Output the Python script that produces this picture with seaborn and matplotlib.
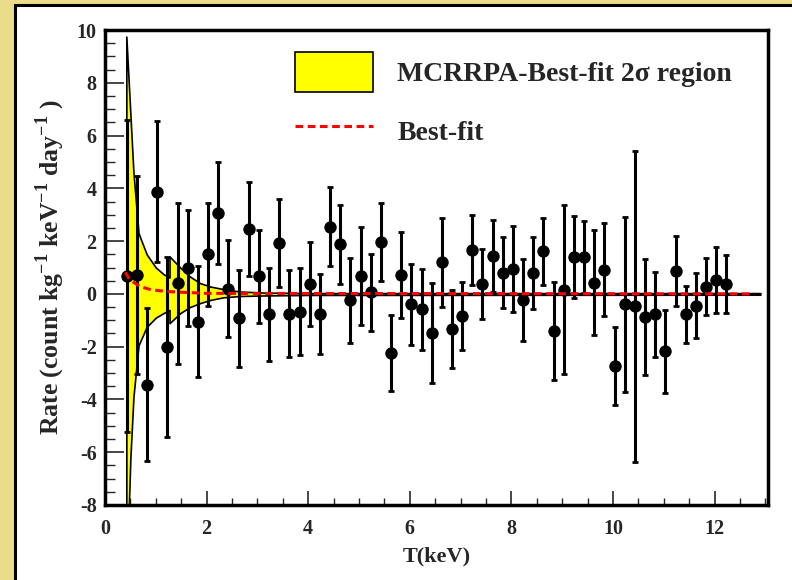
import matplotlib

matplotlib.use("Agg")
import matplotlib.pyplot as plt
import seaborn as sns
from matplotlib.lines import Line2D
from matplotlib.patches import Patch, Rectangle
from matplotlib.ticker import MultipleLocator

# measured spectrum: bin centres (keV), rate and 1-sigma error
energy = [0.43, 0.63, 0.83, 1.03, 1.23, 1.43, 1.63, 1.83, 2.03, 2.23,
          2.43, 2.63, 2.83, 3.03, 3.23, 3.43, 3.63, 3.83, 4.03, 4.23,
          4.43, 4.63, 4.83, 5.03, 5.23, 5.43, 5.63, 5.83, 6.03, 6.23,
          6.43, 6.63, 6.83, 7.03, 7.23, 7.43, 7.63, 7.83, 8.03, 8.23,
          8.43, 8.63, 8.83, 9.03, 9.23, 9.43, 9.63, 9.83, 10.03, 10.23,
          10.43, 10.63, 10.83, 11.03, 11.23, 11.43, 11.63, 11.83, 12.03, 12.23]
rate = [0.68, 0.70, -3.45, 3.88, -2.02, 0.40, 0.97, -1.06, 1.50, 3.06,
        0.20, -0.93, 2.46, 0.66, -0.78, 1.94, -0.76, -0.67, 0.38, -0.76,
        2.55, 1.88, -0.25, 0.68, 0.06, 1.97, -2.25, 0.73, -0.40, -0.59,
        -1.47, 1.19, -1.33, -0.85, 1.66, 0.37, 1.44, 0.80, 0.95, -0.24,
        0.80, 1.62, -1.41, 0.15, 1.41, 1.39, 0.43, 0.92, -2.73, -0.40,
        -0.47, -0.88, -0.77, -2.18, 0.88, -0.78, -0.44, 0.28, 0.53, 0.38]
rate_err = [5.90, 3.75, 2.90, 2.67, 3.40, 3.05, 2.20, 2.10, 1.95, 1.92,
            1.85, 1.85, 1.78, 1.77, 1.78, 1.66, 1.65, 1.65, 1.60, 1.50,
            1.50, 1.50, 1.60, 1.87, 1.47, 1.47, 1.44, 1.63, 1.54, 1.52,
            1.90, 1.69, 1.48, 1.29, 1.33, 1.34, 1.37, 1.34, 1.63, 1.55,
            1.37, 1.27, 1.85, 3.20, 1.56, 1.36, 2.00, 1.75, 1.48, 3.32,
            5.90, 2.20, 1.61, 1.58, 1.33, 1.08, 1.25, 1.09, 1.24, 1.09]

# MCRRPA best-fit 2 sigma band
band_energy = [0.42, 0.50, 0.56, 0.66, 0.82, 1.00, 1.15, 1.27, 1.27, 1.48,
               1.67, 1.87, 2.07, 2.33, 2.66, 3.12, 4.0, 12.9]
band_upper = [9.75, 6.80, 4.60, 2.30, 1.50, 1.00, 0.75, 0.62, 1.42, 1.00,
              0.66, 0.41, 0.28, 0.18, 0.09, 0.05, 0.03, 0.03]
band_lower = [-11.0, -6.2, -3.9, -1.95, -1.25, -0.90, -0.73, -0.61, -1.11, -0.73,
              -0.50, -0.35, -0.23, -0.13, -0.08, -0.06, -0.04, -0.03]

# best-fit curve
fit_energy = [0.40, 0.49, 0.69, 0.90, 1.21, 2.00, 12.78]
fit_rate = [0.82, 0.53, 0.28, 0.16, 0.09, 0.02, 0.0]

sns.set_theme(style="ticks")
plt.rcParams["font.family"] = ["Liberation Serif", "DejaVu Serif"]
plt.rcParams["font.weight"] = "bold"
plt.rcParams["axes.labelweight"] = "bold"
plt.rcParams["axes.unicode_minus"] = False
plt.rcParams["mathtext.fontset"] = "custom"
plt.rcParams["mathtext.rm"] = "Liberation Serif:bold"
plt.rcParams["mathtext.bf"] = "Liberation Serif:bold"

fig = plt.figure(figsize=(7.92, 5.8), dpi=100)
fig.patch.set_facecolor("#E9DD8A")
fig.patches.append(Rectangle((15 / 792, -0.1), 1.2, 1.1 - 5.5 / 580, transform=fig.transFigure,
                             facecolor="white", edgecolor="black", linewidth=2.2, zorder=-10))
ax = fig.add_axes([105 / 792, 75 / 580, 663 / 792, 475 / 580])
ax.set_facecolor("white")

ax.fill_between(band_energy, band_lower, band_upper, facecolor="#FFFF00",
                edgecolor="black", linewidth=1.2, zorder=1)
ax.errorbar(energy, rate, yerr=rate_err, fmt="none", ecolor="black",
            elinewidth=2.2, capsize=2.3, capthick=2, zorder=3)
sns.scatterplot(x=energy, y=rate, color="black", s=80, edgecolor="black",
                linewidth=0, ax=ax, zorder=4)
sns.lineplot(x=fit_energy, y=fit_rate, color="red", linewidth=2.2, ax=ax, zorder=5)
ax.lines[-1].set_linestyle((0, (2.5, 1.5)))

ax.set_xlim(0, 13.05)
ax.set_ylim(-8, 10)
ax.xaxis.set_major_locator(MultipleLocator(2))
ax.xaxis.set_minor_locator(MultipleLocator(0.5))
ax.yaxis.set_major_locator(MultipleLocator(2))
ax.yaxis.set_minor_locator(MultipleLocator(0.5))
ax.tick_params(axis="x", which="major", direction="in", length=10, width=1.2,
               labelsize=14.5, pad=10)
ax.tick_params(axis="x", which="minor", direction="in", length=5, width=1.0)
ax.tick_params(axis="y", which="major", direction="in", length=14, width=1.2,
               labelsize=14.5, pad=6)
ax.tick_params(axis="y", which="minor", direction="in", length=7, width=1.0)
for spine in ax.spines.values():
    spine.set_linewidth(2.5)
    spine.set_color("black")

ax.set_xlabel("T(keV)", fontsize=16, labelpad=5.5)
ax.set_ylabel("Rate (count kg$^{-1}$ keV$^{-1}$ day$^{-1}$ )", fontsize=18.5, labelpad=7)

handles = [Patch(facecolor="#FFFF00", edgecolor="black", linewidth=1.2),
           Line2D([], [], color="red", linewidth=2.2, linestyle=(0, (2.5, 1.5)))]
labels = ["MCRRPA-Best-fit 2\u03c3 region", "Best-fit"]
ax.legend(handles, labels, loc="upper left", bbox_to_anchor=(0.27, 0.978), frameon=False,
          fontsize=20, handlelength=2.8, handleheight=1.85, handletextpad=0.88,
          labelspacing=0.7, borderaxespad=0)

fig.savefig("out.png", dpi=100, facecolor=fig.get_facecolor())
